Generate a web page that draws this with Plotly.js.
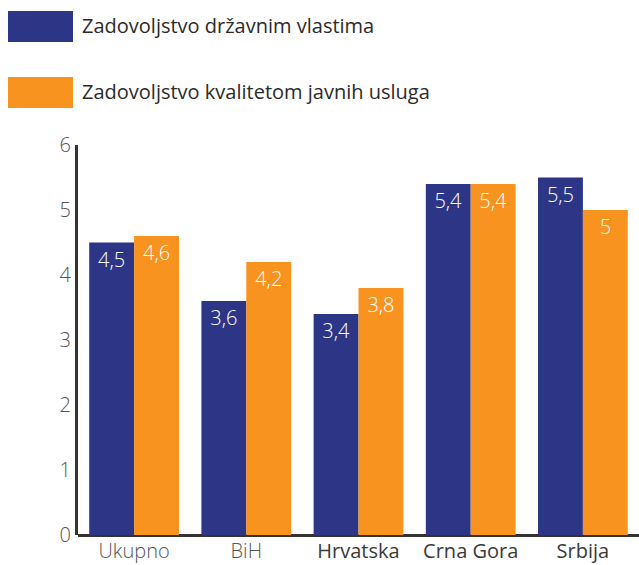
<!DOCTYPE html>
<html>
<head>
<meta charset="utf-8">
<script src="https://cdn.plot.ly/plotly-3.0.1.min.js"></script>
<style>html,body{margin:0;padding:0;background:#fff;}#chart{width:639px;height:565px;}</style>
</head>
<body>
<div id="chart"></div>
<script>
const categories = ["Ukupno", "BiH", "Hrvatska", "Crna Gora", "Srbija"];
const categoryColors = ["#555555", "#555555", "#3a3a3a", "#3a3a3a", "#3a3a3a"];
const categoryWeights = [300, 300, 400, 400, 400];
const seriesNames = ["Zadovoljstvo državnim vlastima", "Zadovoljstvo kvalitetom javnih usluga"];
const drzavneVlasti = [4.5, 3.6, 3.4, 5.4, 5.5];
const javneUsluge = [4.6, 4.2, 3.8, 5.4, 5.0];
const seriesColors = ["#2d3586", "#f7931e"];
const yTicks = [0, 1, 2, 3, 4, 5, 6];

const fmt = v => String(v).replace('.', ',');
const FONT = "Open Sans, Noto Sans, sans-serif";

function barTrace(name, vals, color) {
  return {
    type: 'bar', name: name, x: categories, y: vals,
    marker: {color: color},
    text: vals.map(fmt), textposition: 'inside', insidetextanchor: 'end',
    textfont: {color: '#ffffff', size: 20, family: FONT, weight: 300},
    textangle: 0, cliponaxis: false, hoverinfo: 'skip'
  };
}

const traces = [
  barTrace(seriesNames[0], drzavneVlasti, seriesColors[0]),
  barTrace(seriesNames[1], javneUsluge, seriesColors[1])
];

// pixel-based layout helpers
const L = 78, T = 145, B = 30, R = 0, W = 639, H = 565;
const pw = W - L - R, ph = H - T - B;
const px = x => (x - L) / pw;
const py = y => (H - B - y) / ph;

const legendRows = [
  {y0: 11, y1: 42, color: seriesColors[0], text: seriesNames[0]},
  {y0: 77, y1: 108, color: seriesColors[1], text: seriesNames[1]}
];
const shapes = legendRows.map(r => ({
  type: 'rect', xref: 'paper', yref: 'paper',
  x0: px(8), x1: px(73), y0: py(r.y1), y1: py(r.y0),
  fillcolor: r.color, line: {width: 0}
}));
const annotations = legendRows.map(r => ({
  xref: 'paper', yref: 'paper', x: px(80), y: py((r.y0 + r.y1) / 2 - 1),
  xanchor: 'left', yanchor: 'middle', showarrow: false,
  text: r.text, font: {size: 20, color: '#2b2b2b', family: FONT, weight: 400}
}));

const layout = {
  width: W, height: H,
  margin: {l: L, r: R, t: T, b: B, pad: 0},
  paper_bgcolor: '#ffffff', plot_bgcolor: '#ffffff',
  font: {family: FONT},
  showlegend: false,
  barmode: 'group', bargap: 0.2, bargroupgap: 0,
  separators: ',.',
  xaxis: {
    tickmode: 'array', tickvals: categories,
    ticktext: categories.map((c, i) => '<span style="color:' + categoryColors[i] + ';font-weight:' + categoryWeights[i] + '">' + c + '</span>'),
    tickfont: {size: 20, color: '#333333', family: FONT, weight: 300},
    showline: false, showgrid: false, ticks: '', fixedrange: true,
    ticklabelstandoff: 2
  },
  yaxis: {
    range: [0, 6], tickvals: yTicks, ticks: '', showgrid: false,
    showline: true, linecolor: '#333333', linewidth: 3,
    zeroline: true, zerolinecolor: '#333333', zerolinewidth: 3,
    tickfont: {size: 20, color: '#555555', family: FONT, weight: 300},
    ticklabelstandoff: 0
  },
  shapes: shapes, annotations: annotations
};

Plotly.newPlot('chart', traces, layout, {displayModeBar: false, staticPlot: true});
</script>
</body>
</html>
